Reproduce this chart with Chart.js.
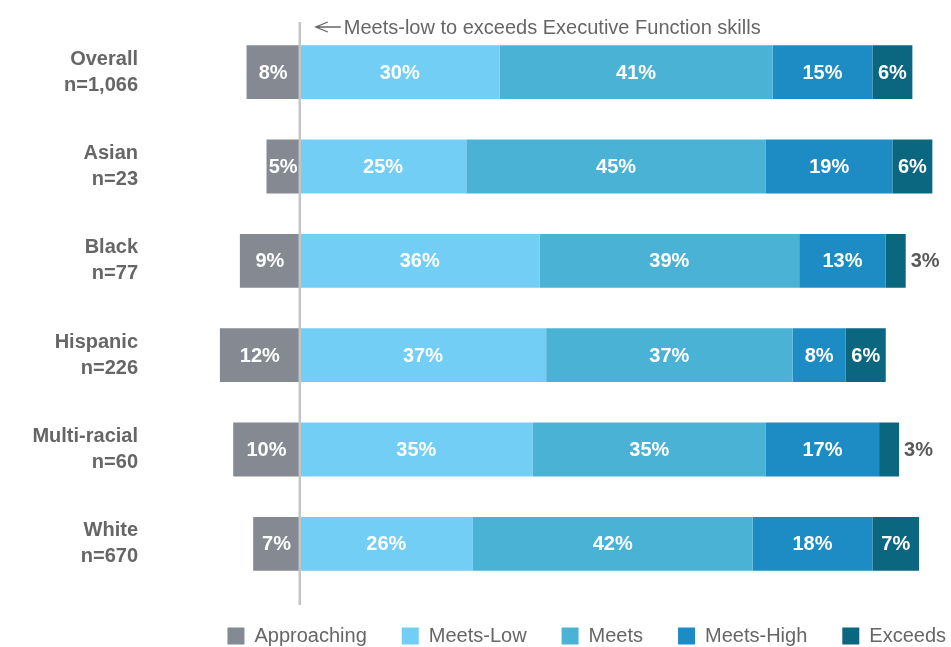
<!DOCTYPE html>
<html>
<head>
<meta charset="utf-8">
<script src="https://cdn.jsdelivr.net/npm/chart.js@4"></script>
<style>
    html, body { margin: 0; padding: 0; background: #fff; }
    #wrap { width: 951px; height: 647px; position: relative; }
</style>
</head>
<body>
<div id="wrap"><canvas id="ef-chart"></canvas></div>
<script>
const groups = [
    ["Overall", "n=1,066"],
    ["Asian", "n=23"],
    ["Black", "n=77"],
    ["Hispanic", "n=226"],
    ["Multi-racial", "n=60"],
    ["White", "n=670"]
];
const approaching = [8, 5, 9, 12, 10, 7];
const meetsLow = [30, 25, 36, 37, 35, 26];
const meets = [41, 45, 39, 37, 35, 42];
const meetsHigh = [15, 19, 13, 8, 17, 18];
const exceeds = [6, 6, 3, 6, 3, 7];

const FONT = "'Liberation Sans', Arial, Helvetica, sans-serif";
const GREY_TEXT = "#666666";

// etiquetas de percentagem dentro (ou ao lado) das barras
const barLabels = {
    id: "barLabels",
    afterDatasetsDraw(chart) {
        const ctx = chart.ctx;
        ctx.save();
        ctx.font = "bold 20px " + FONT;
        ctx.textBaseline = "middle";
        chart.data.datasets.forEach((ds, i) => {
            chart.getDatasetMeta(i).data.forEach((bar, j) => {
                const v = Math.abs(ds.data[j]);
                const txt = v + "%";
                if (v < 4) {
                    ctx.fillStyle = "#595959";
                    ctx.textAlign = "left";
                    ctx.fillText(txt, Math.max(bar.x, bar.base) + 5, bar.y + 1);
                } else {
                    ctx.fillStyle = "#ffffff";
                    ctx.textAlign = "center";
                    ctx.fillText(txt, (bar.x + bar.base) / 2, bar.y + 1);
                }
            });
        });
        ctx.restore();
    }
};

// linha vertical no zero e a nota com seta
const zeroLine = {
    id: "zeroLine",
    afterDatasetsDraw(chart) {
        const ctx = chart.ctx;
        const x0 = chart.scales.x.getPixelForValue(0);
        ctx.save();
        ctx.strokeStyle = "#c4c4c4";
        ctx.lineWidth = 2.5;
        ctx.beginPath();
        ctx.moveTo(x0, 22);
        ctx.lineTo(x0, 605);
        ctx.stroke();

        // seta
        const ay = 27;
        ctx.strokeStyle = GREY_TEXT;
        ctx.lineWidth = 1.3;
        ctx.beginPath();
        ctx.moveTo(x0 + 16, ay);
        ctx.lineTo(x0 + 41, ay);
        ctx.moveTo(x0 + 28, ay - 5);
        ctx.lineTo(x0 + 16, ay);
        ctx.lineTo(x0 + 28, ay + 5);
        ctx.stroke();

        ctx.fillStyle = GREY_TEXT;
        ctx.font = "20px " + FONT;
        ctx.textAlign = "left";
        ctx.textBaseline = "alphabetic";
        ctx.fillText("Meets-low to exceeds Executive Function skills", x0 + 44, 34);
        ctx.restore();
    }
};

function makeDataset(label, values, color, negative) {
    return {
        label: label,
        data: values.map((v) => negative ? -v : v),
        backgroundColor: color,
        borderWidth: 0,
        barPercentage: 0.57,
        categoryPercentage: 1
    };
}

new Chart(document.getElementById("ef-chart"), {
    type: "bar",
    data: {
        labels: groups,
        datasets: [
            makeDataset("Approaching", approaching, "#858a92", true),
            makeDataset("Meets-Low", meetsLow, "#72cef4", false),
            makeDataset("Meets", meets, "#4ab3d5", false),
            makeDataset("Meets-High", meetsHigh, "#1e8cc4", false),
            makeDataset("Exceeds", exceeds, "#0b6680", false)
        ]
    },
    options: {
        indexAxis: "y",
        responsive: true,
        maintainAspectRatio: false,
        animation: false,
        layout: { padding: { top: 25, right: -30, bottom: -9, left: 0 } },
        scales: {
            x: {
                stacked: true,
                display: false,
                min: -24,
                max: 97.8
            },
            y: {
                stacked: true,
                grid: { display: false, drawTicks: false },
                border: { display: false },
                ticks: {
                    color: GREY_TEXT,
                    padding: 2,
                    font: { family: FONT, size: 20, weight: "bold", lineHeight: 1.3 }
                },
                afterFit(scale) {
                    scale.width = 140;
                    scale.paddingTop = 0;
                    scale.paddingBottom = 0;
                }
            }
        },
        plugins: {
            legend: {
                position: "bottom",
                align: "end",
                labels: {
                    color: GREY_TEXT,
                    boxWidth: 17,
                    boxHeight: 17,
                    padding: 35,
                    font: { family: FONT, size: 20 }
                }
            },
            tooltip: { enabled: false }
        }
    },
    plugins: [barLabels, zeroLine]
});
</script>
</body>
</html>
